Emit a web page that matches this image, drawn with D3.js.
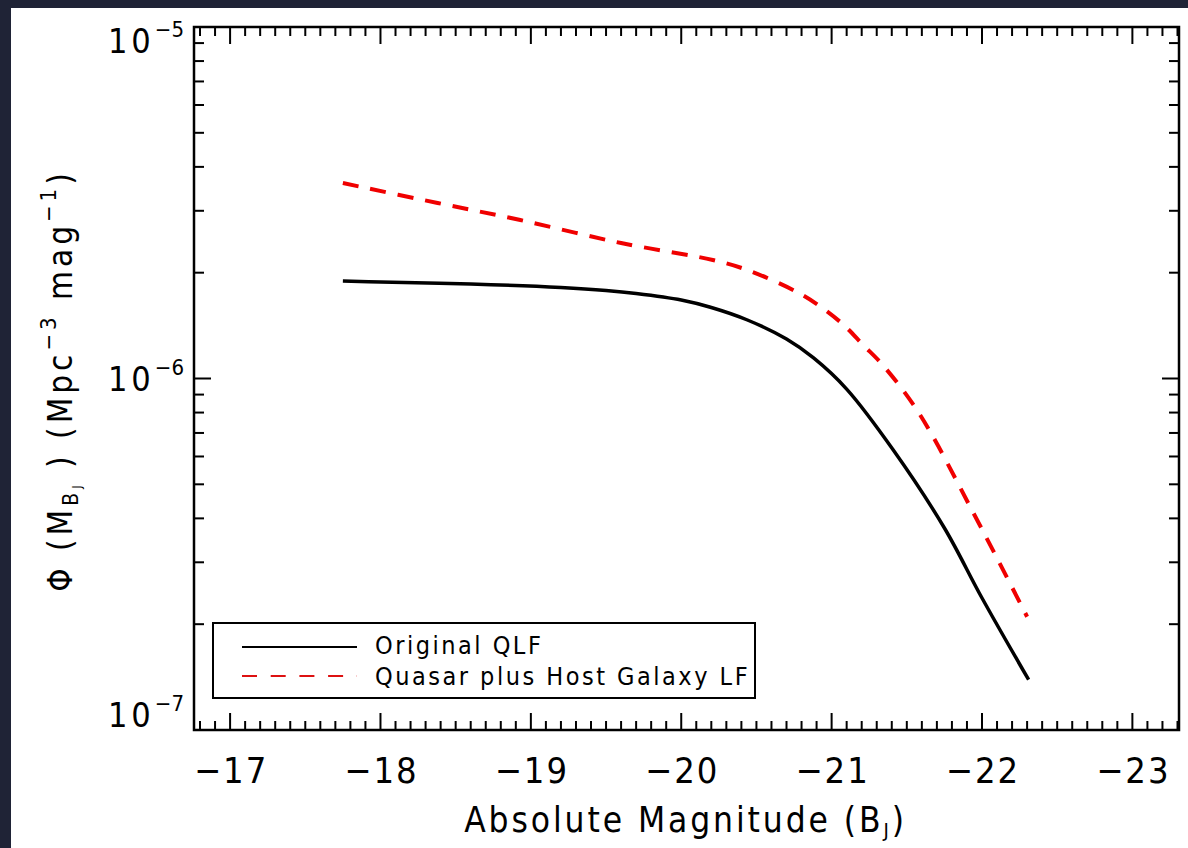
<!DOCTYPE html>
<html>
<head>
<meta charset="utf-8">
<script src="https://cdn.jsdelivr.net/npm/d3@7"></script>
<style>
  html, body { margin: 0; padding: 0; background: #1f2336; }
  svg { display: block; }
  text { font-family: "DejaVu Sans Condensed", "DejaVu Sans", sans-serif; fill: #000; }
</style>
</head>
<body>
<svg id="chart" width="1188" height="848"></svg>
<script>
// ---- data ----
const xTicks = [-17, -18, -19, -20, -21, -22, -23];
const yTickExponents = [-5, -6, -7];

// Original QLF (solid black)
const qlfMag = [-17.75, -18.0, -18.6, -19.2, -19.5, -19.7, -20.0, -20.2, -20.44, -20.7, -20.88, -21.1, -21.41, -21.75, -22.0, -22.31];
const qlfPhi = [1.894e-6, 1.881e-6, 1.857e-6, 1.815e-6, 1.780e-6, 1.745e-6, 1.672e-6, 1.592e-6, 1.467e-6, 1.295e-6, 1.144e-6, 9.33e-7, 6.26e-7, 3.756e-7, 2.374e-7, 1.39e-7];

// Quasar plus Host Galaxy LF (red dashed)
const hostMag = [-17.75, -18.38, -18.93, -19.6, -20.21, -20.44, -20.77, -20.93, -21.08, -21.21, -21.34, -21.58, -21.95, -22.3];
const hostPhi = [3.598e-6, 3.157e-6, 2.824e-6, 2.429e-6, 2.173e-6, 2.035e-6, 1.762e-6, 1.597e-6, 1.420e-6, 1.245e-6, 1.092e-6, 7.98e-7, 4.09e-7, 2.10e-7];

const legendLabels = ["Original QLF", "Quasar plus Host Galaxy LF"];

// ---- layout ----
const svg = d3.select("#chart");
const L = 194, R = 1179, T = 27, B = 730;

svg.append("rect").attr("x", 11).attr("y", 8).attr("width", 1188 - 11).attr("height", 848 - 8).attr("fill", "#ffffff");

const x = d3.scaleLinear().domain([-16.76, -23.31]).range([L, R]);
const y = d3.scaleLog().domain([1e-7, 1e-5]).range([B, T]);

const g = svg.append("g");

// ---- ticks ----
const majorLen = 17, minorLen = 9, yMinorLen = 10;
const xMinor = d3.range(-167, -234, -1).map(v => v / 10).filter(v => v <= -16.76 && v >= -23.31);
const tickG = g.append("g").attr("stroke", "#000").attr("stroke-width", 2);
xMinor.forEach(v => {
  const isMajor = Math.abs(v - Math.round(v)) < 1e-6;
  const len = isMajor ? majorLen : minorLen;
  const px = x(v);
  tickG.append("line").attr("x1", px).attr("x2", px).attr("y1", B).attr("y2", B - len);
  tickG.append("line").attr("x1", px).attr("x2", px).attr("y1", T).attr("y2", T + len);
});
const yAll = [];
[-7, -6].forEach(e => { for (let m = 1; m <= 9; m++) yAll.push(m * Math.pow(10, e)); });
yAll.push(1e-5);
yAll.forEach(v => {
  const isMajor = Math.abs(Math.log10(v) - Math.round(Math.log10(v))) < 1e-9;
  const len = isMajor ? majorLen : yMinorLen;
  const py = y(v);
  tickG.append("line").attr("x1", L).attr("x2", L + len).attr("y1", py).attr("y2", py);
  tickG.append("line").attr("x1", R).attr("x2", R - len).attr("y1", py).attr("y2", py);
});

// frame
g.append("rect").attr("x", L).attr("y", T).attr("width", R - L).attr("height", B - T)
  .attr("fill", "none").attr("stroke", "#000").attr("stroke-width", 2.5);

// x tick labels
g.append("g").selectAll("text").data(xTicks).join("text")
  .attr("x", d => x(d) + 1).attr("y", 783)
  .attr("text-anchor", "middle").attr("font-size", 36).attr("letter-spacing", 2)
  .text(d => "\u2212" + Math.abs(d));

// y tick labels (10^e), kept inside the plot's vertical span
yTickExponents.forEach(e => {
  const py = y(Math.pow(10, e));
  const base = Math.min(Math.max(py + 12, T + 26), B - 3);
  const t = g.append("text").attr("x", 184).attr("y", base)
    .attr("text-anchor", "end").attr("font-size", 34);
  t.append("tspan").attr("letter-spacing", 4).text("10");
  t.append("tspan").attr("font-size", 22).attr("dy", -16).text("\u2212" + Math.abs(e));
});

// x title
const xt = g.append("text").attr("x", (L + R) / 2 - 1).attr("y", 832)
  .attr("text-anchor", "middle").attr("font-size", 35).attr("letter-spacing", 2.9);
xt.append("tspan").text("Absolute Magnitude (B");
xt.append("tspan").attr("font-size", 20).attr("dy", 5).text("J");
xt.append("tspan").attr("dy", -5).text(")");

// y title
const yt = g.append("text").attr("transform", `translate(72,${(T + B) / 2 + 2}) rotate(-90)`)
  .attr("text-anchor", "middle").attr("font-size", 33).attr("letter-spacing", 4);
yt.append("tspan").text("\u03A6 (M");
yt.append("tspan").attr("font-size", 21).attr("dy", 6).text("B");
yt.append("tspan").attr("font-size", 13).attr("dy", 3).text("J");
yt.append("tspan").attr("dy", -9).text(" ) (Mpc");
yt.append("tspan").attr("font-size", 22).attr("dy", -16).text("\u22123");
yt.append("tspan").attr("dy", 16).text(" mag");
yt.append("tspan").attr("font-size", 22).attr("dy", -16).text("\u22121");
yt.append("tspan").attr("dy", 16).text(")");

// ---- lines ----
const line = d3.line().x(d => x(d[0])).y(d => y(d[1])).curve(d3.curveCatmullRom.alpha(0.5));
g.append("path").datum(qlfMag.map((m, i) => [m, qlfPhi[i]]))
  .attr("d", line).attr("fill", "none").attr("stroke", "#000").attr("stroke-width", 3.5);
g.append("path").datum(hostMag.map((m, i) => [m, hostPhi[i]]))
  .attr("d", line).attr("fill", "none").attr("stroke", "#f00000").attr("stroke-width", 4)
  .attr("stroke-dasharray", "16,12");

// ---- legend ----
const lg = g.append("g");
lg.append("rect").attr("x", 213).attr("y", 623).attr("width", 542).attr("height", 75)
  .attr("fill", "#fff").attr("stroke", "#000").attr("stroke-width", 2);
lg.append("line").attr("x1", 242).attr("x2", 357).attr("y1", 647).attr("y2", 647)
  .attr("stroke", "#000").attr("stroke-width", 2);
lg.append("line").attr("x1", 242).attr("x2", 357).attr("y1", 676).attr("y2", 676)
  .attr("stroke", "#dd1111").attr("stroke-width", 2).attr("stroke-dasharray", "15,13.7");
lg.selectAll("text.lab").data(legendLabels).join("text").attr("class", "lab")
  .attr("x", 375).attr("y", (d, i) => 654 + i * 31).attr("font-size", 25).attr("letter-spacing", 2.5)
  .text(d => d);
</script>
</body>
</html>
